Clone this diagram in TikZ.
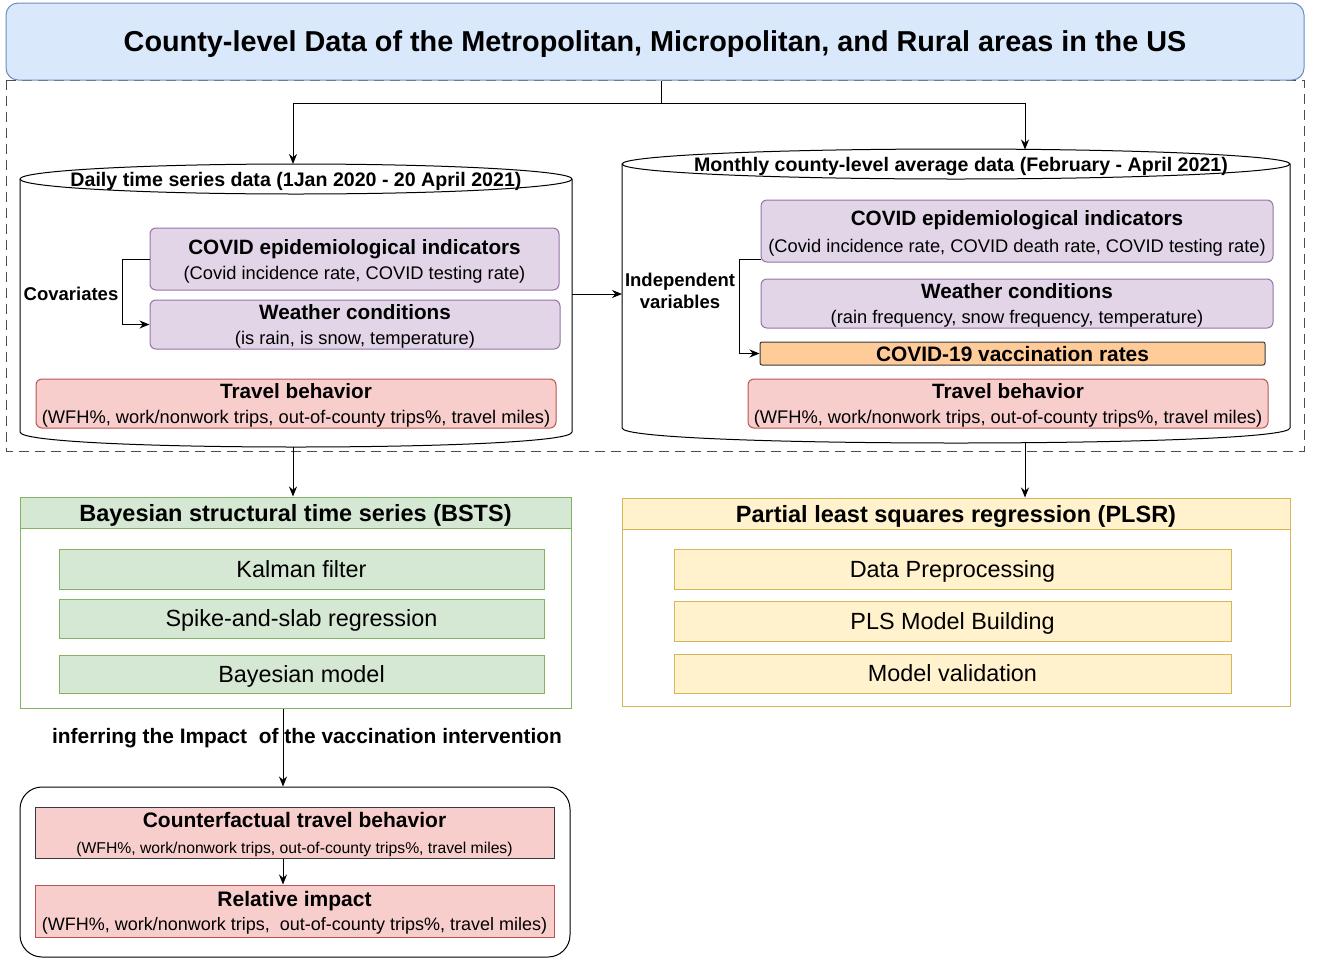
\documentclass[tikz,border=0pt]{standalone}
\usepackage{fontspec}
\setmainfont{Liberation Sans}
\usetikzlibrary{arrows.meta,positioning}

\definecolor{titlefill}{HTML}{DAE8FC}
\definecolor{titleline}{HTML}{6C8EBF}
\definecolor{purplefill}{HTML}{E1D5E7}
\definecolor{purpleline}{HTML}{9673A6}
\definecolor{redfill}{HTML}{F8CECC}
\definecolor{redline}{HTML}{B85450}
\definecolor{greenfill}{HTML}{D5E8D4}
\definecolor{greenline}{HTML}{82B366}
\definecolor{yellowfill}{HTML}{FFF2CC}
\definecolor{yellowline}{HTML}{D6B656}
\definecolor{orangefill}{HTML}{FFCC99}
\definecolor{darkline}{HTML}{36393D}

\newcommand{\boxhead}{\fontsize{20.7}{25}\selectfont\bfseries}
\newcommand{\boxsub}{\fontsize{18.3}{25}\selectfont}

\tikzset{
  line/.style={line width=1pt},
  arr/.style={line, -{Stealth[length=10pt,width=8pt]}},
  lbl/.style={font=\fontsize{18.5}{22}\selectfont\bfseries, align=center, inner sep=0pt},
  cyltitle/.style={font=\fontsize{19.6}{24}\selectfont\bfseries, inner sep=0pt, text depth=0pt},
  varbox/.style={line, rounded corners=6pt, align=center, inner sep=0pt, text depth=0pt, font=\boxsub},
  purplebox/.style={varbox, draw=purpleline, fill=purplefill},
  redbox/.style={varbox, draw=redline, fill=redfill},
  header/.style={line, inner sep=0pt, text depth=0pt, font=\fontsize{23.5}{28}\selectfont\bfseries},
  lane/.style={line, inner sep=0pt},
  item/.style={line, inner sep=0pt, text depth=0pt, font=\fontsize{23.4}{28}\selectfont},
}

\begin{document}
\begin{tikzpicture}[x=1pt, y=-1pt]
\useasboundingbox (0,0) rectangle (1322,959);
% frame
\draw[line, dash pattern=on 10pt off 6pt, black!70] (6,80) rectangle (1304,451);
\node[line, draw=titleline, fill=titlefill, rounded corners=12pt, minimum width=1298pt, minimum height=77pt,
  text depth=0pt, font=\fontsize{28.8}{34}\selectfont\bfseries] (title) at (655,41.5)
  {County-level Data of the Metropolitan, Micropolitan, and Rural areas in the US};

% daily cylinder
\draw[line] (20,179) -- (20,432) .. controls (20,452) and (572,452) .. (572,432) -- (572,179);
\draw[line, fill=white] (296,179) ellipse [x radius=276, y radius=15];
\node[cyltitle] (dlabel) at (296,179) {Daily time series data (1Jan 2020 - 20 April 2021)};
\coordinate (dtop) at (293,164);
\coordinate (dbot) at (293,447);
\coordinate (dright) at (572,294);
\node[purplebox, minimum width=409pt, minimum height=62pt] (dcovid) at (354.5,259)
  {{\boxhead COVID epidemiological indicators}\\(Covid incidence rate, COVID testing rate)};
\node[purplebox, minimum width=410pt, minimum height=49pt] (dweather) at (355,324.5)
  {{\boxhead Weather conditions}\\(is rain, is snow, temperature)};
\node[redbox, minimum width=520pt, minimum height=49pt] (dtravel) at (296,403.5)
  {{\boxhead Travel behavior}\\(WFH\%, work/nonwork trips, out-of-county trips\%, travel miles)};
\node[lbl] (covar) at (71,294) {Covariates};
\draw[arr] (dcovid.west) -- ++(-27,0) |- (dweather.west);

% monthly cylinder
\draw[line] (622,164) -- (622,428) .. controls (622,448) and (1290,448) .. (1290,428) -- (1290,164);
\draw[line, fill=white] (956,164) ellipse [x radius=334, y radius=15];
\node[cyltitle] (mlabel) at (961,164) {Monthly county-level average data (February - April 2021)};
\coordinate (mtop) at (1025,149.5);
\coordinate (mbot) at (1025,443);
\coordinate (mleft) at (622,294);
\node[purplebox, minimum width=512pt, minimum height=62pt] (mcovid) at (1017,231)
  {{\boxhead COVID epidemiological indicators}\\[2pt](Covid incidence rate, COVID death rate, COVID testing rate)};
\node[purplebox, minimum width=512pt, minimum height=49pt] (mweather) at (1017,303.5)
  {{\boxhead Weather conditions}\\(rain frequency, snow frequency, temperature)};
\node[varbox, rounded corners=2pt, draw=darkline, fill=orangefill, minimum width=505pt, minimum height=23pt,
  font=\fontsize{20.9}{25}\selectfont\bfseries] (mvacc) at (1012.5,353.5) {COVID-19 vaccination rates};
\node[redbox, minimum width=520pt, minimum height=49pt] (mtravel) at (1008,403.5)
  {{\boxhead Travel behavior}\\(WFH\%, work/nonwork trips, out-of-county trips\%, travel miles)};
\node[lbl] (indep) at (680,291) {Independent\\variables};
\draw[arr] ([yshift=-28pt]mcovid.west) -- ++(-21,0) |- (mvacc.west);

% links
\draw[line] ([xshift=6pt]title.south) -- ++(0,23) coordinate (split);
\draw[arr] (split) -| (dtop);
\draw[arr] (split) -| (mtop);
\draw[arr] (dright) -- (mleft);

% BSTS
\node[lane, draw=greenline, minimum width=551pt, minimum height=180pt] (bstsbody) at (295.5,618) {};
\node[header, draw=greenline, fill=greenfill, minimum width=551pt, minimum height=31pt] (bsts) at (295.5,512.5)
  {Bayesian structural time series (BSTS)};
\node[item, draw=greenline, fill=greenfill, minimum width=485pt, minimum height=40pt] (kalman) at (301.5,569) {Kalman filter};
\node[item, draw=greenline, fill=greenfill, minimum width=485pt, minimum height=39pt] (spike) at (301.5,618.5) {Spike-and-slab regression};
\node[item, draw=greenline, fill=greenfill, minimum width=485pt, minimum height=38pt] (bayes) at (301.5,674) {Bayesian model};
\draw[arr] (dbot) -- (dbot |- bsts.north);

% PLSR
\node[lane, draw=yellowline, minimum width=668pt, minimum height=177pt] (plsrbody) at (956,617.5) {};
\node[header, draw=yellowline, fill=yellowfill, minimum width=668pt, minimum height=31pt] (plsr) at (956,513.5)
  {Partial least squares regression (PLSR)};
\node[item, draw=yellowline, fill=yellowfill, minimum width=557pt, minimum height=40pt] (prep) at (952.5,569) {Data Preprocessing};
\node[item, draw=yellowline, fill=yellowfill, minimum width=557pt, minimum height=40pt] (build) at (952.5,621) {PLS Model Building};
\node[item, draw=yellowline, fill=yellowfill, minimum width=557pt, minimum height=39pt] (valid) at (952.5,673.5) {Model validation};
\draw[arr] (mbot) -- (mbot |- plsr.north);

% outcome
\node[line, draw, rounded corners=22pt, minimum width=550pt, minimum height=170pt] (outbox) at (295,872) {};
\node[varbox, rounded corners=0pt, draw=darkline, fill=redfill, minimum width=519pt, minimum height=51pt,
  font=\fontsize{15.7}{26}\selectfont] (counter) at (294.5,832.5)
  {{\fontsize{21}{26}\selectfont\bfseries Counterfactual travel behavior}\\(WFH\%, work/nonwork trips, out-of-county trips\%, travel miles)};
\node[redbox, rounded corners=0pt, minimum width=519pt, minimum height=52pt,
  font=\fontsize{18}{24}\selectfont] (relimp) at (294.5,911)
  {{\fontsize{21}{24}\selectfont\bfseries Relative impact}\\(WFH\%, work/nonwork trips, \ out-of-county trips\%, travel miles)};
\draw[arr] ([xshift=-12.5pt]bstsbody.south) -- ([xshift=-12pt]outbox.north);
\node[lbl, font=\fontsize{20.9}{25}\selectfont\bfseries] (infer) at (307,738)
  {inferring the Impact \ of the vaccination intervention};
\draw[arr] ([xshift=-11.5pt]counter.south) -- ([xshift=-11.5pt]relimp.north);
\end{tikzpicture}
\end{document}
